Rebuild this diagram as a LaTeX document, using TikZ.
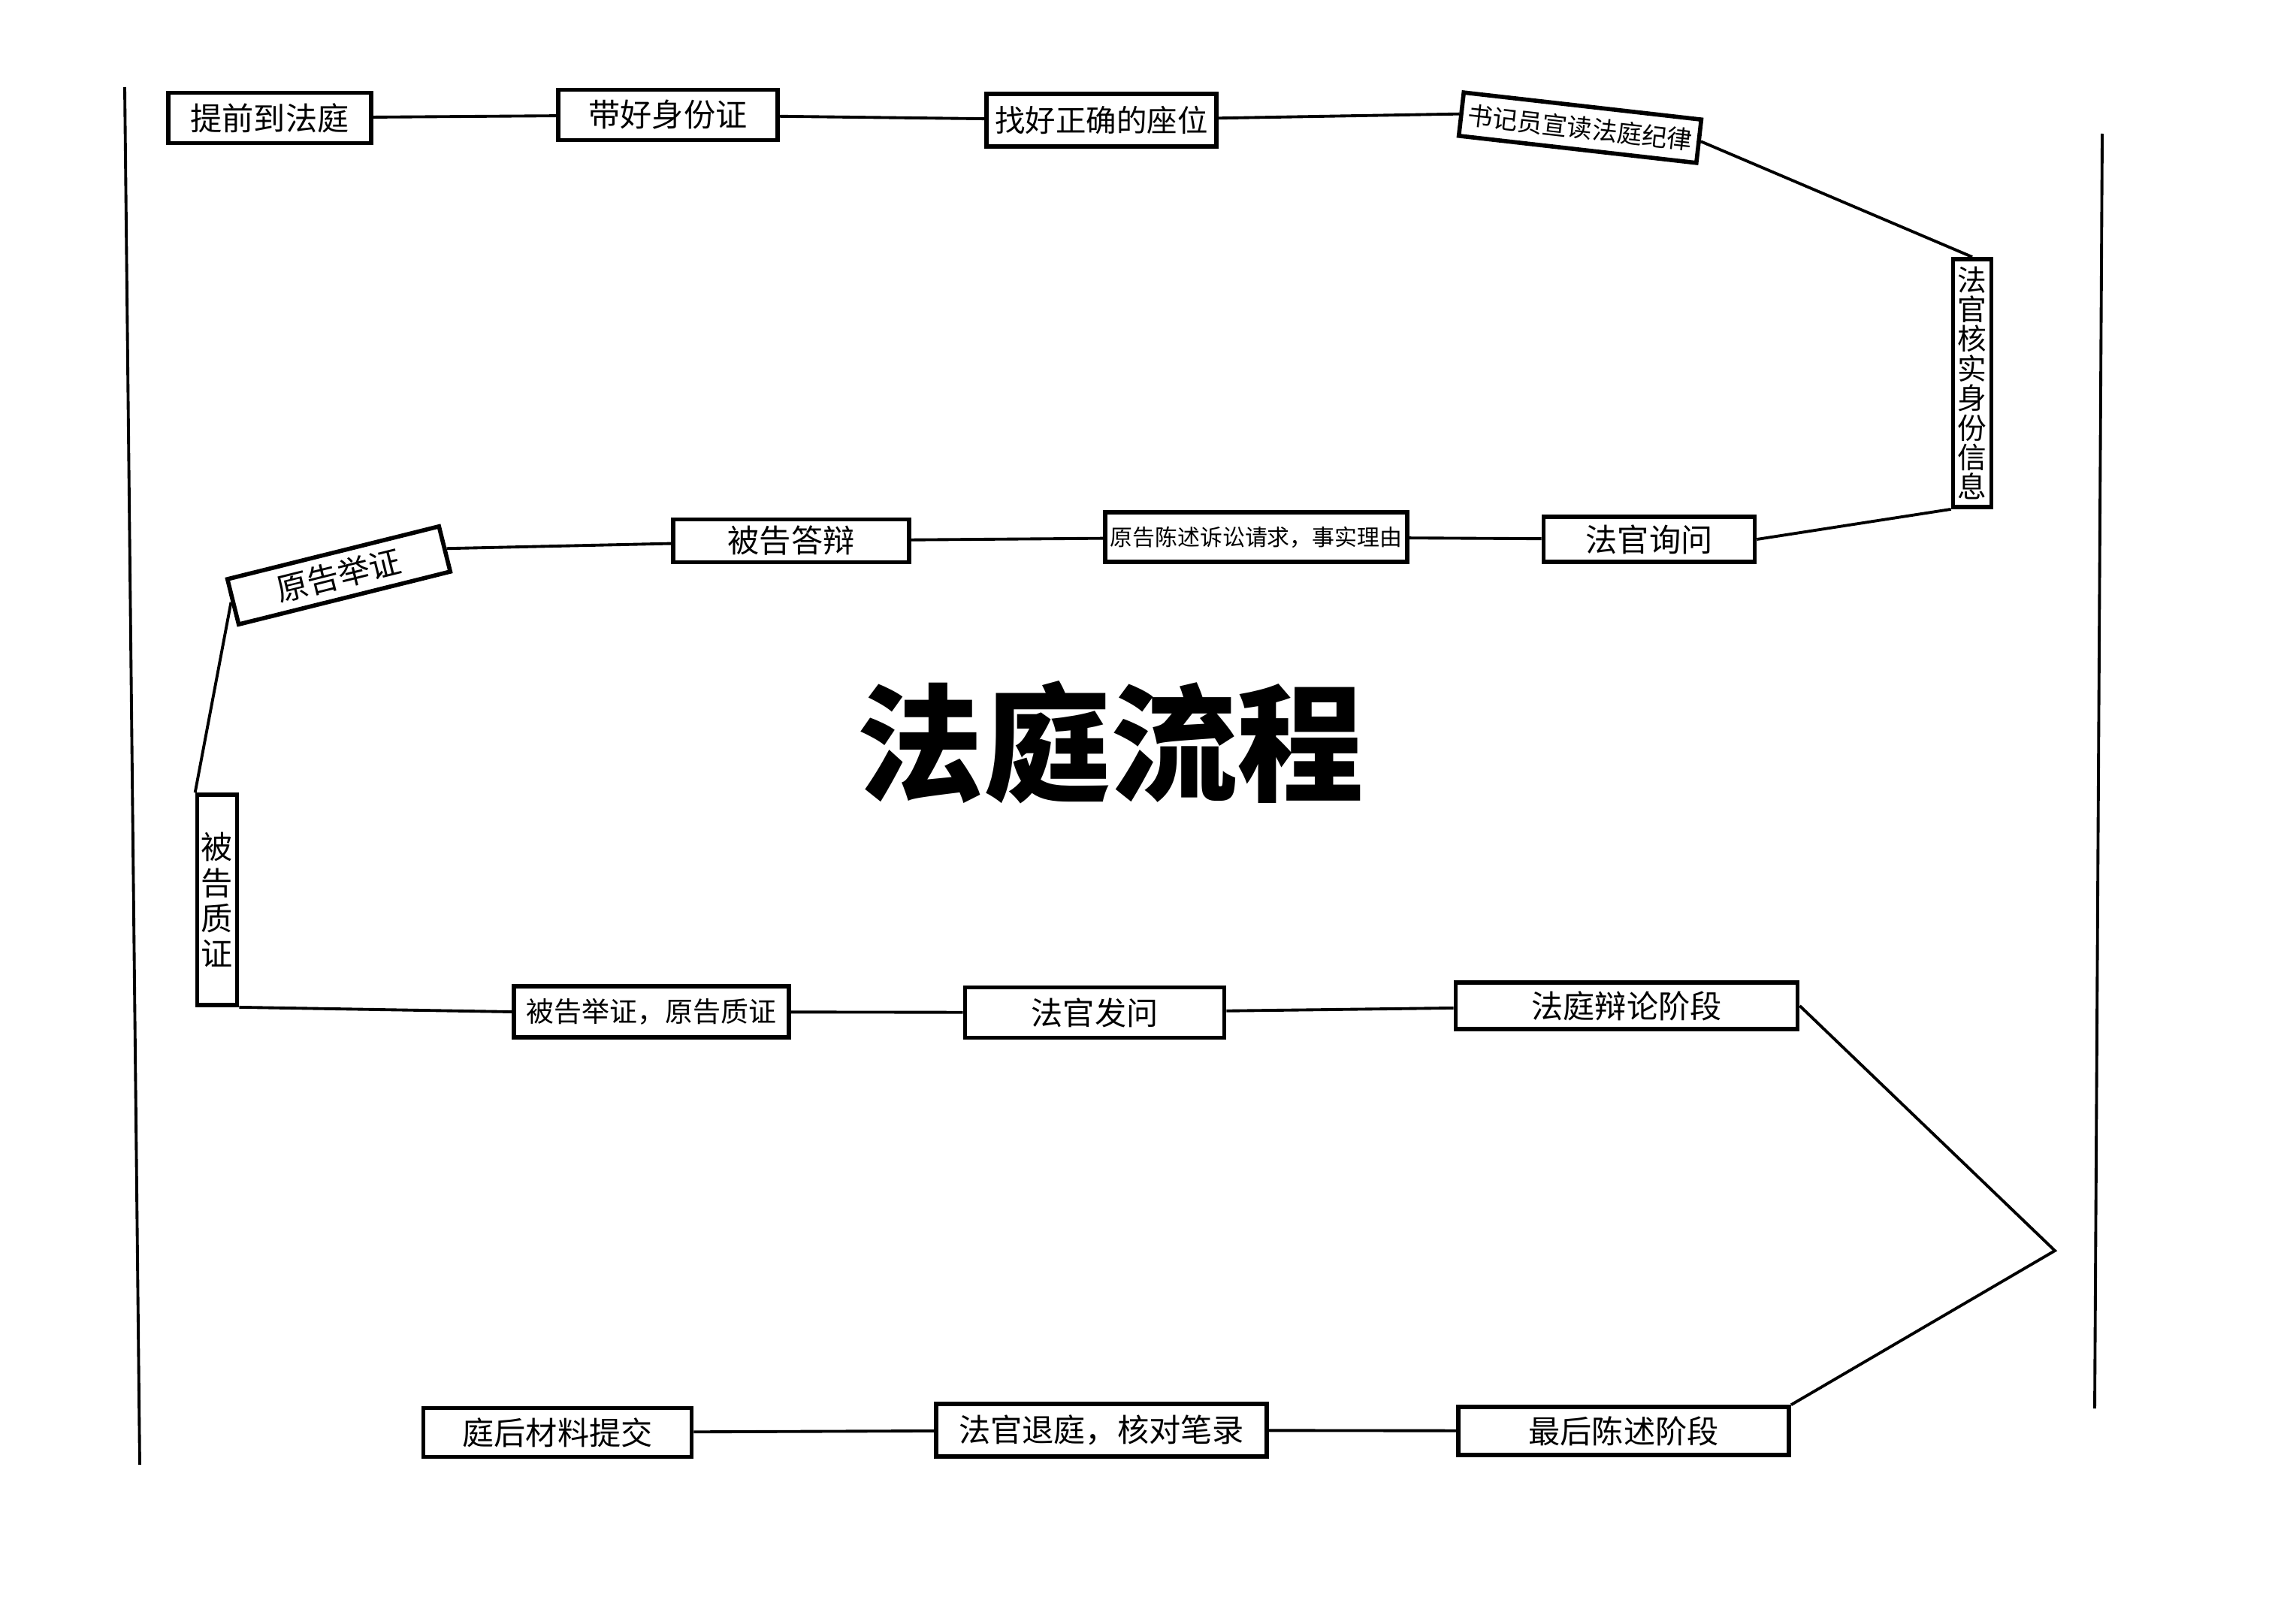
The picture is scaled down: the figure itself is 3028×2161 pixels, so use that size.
\documentclass[tikz,border=0pt]{standalone}
\usepackage{fontspec}
\usepackage{tikz}
\newfontfamily\cjk{Noto Sans CJK SC}
\begin{document}
\begin{tikzpicture}[x=0.01cm, y=-0.01cm,
		stepbox/.style={draw, line width=1.6pt, fill=white, inner sep=0pt, font=\cjk\fontsize{12}{13}\selectfont},
		vbox/.style={stepbox, align=center},
		link/.style={line width=1.1pt}]
		\useasboundingbox[fill=white] (0,0) rectangle (3028,2161);
		
		% side lines
		\draw[link] (166,116) -- (186,1950);
		\draw[link] (2798,178) -- (2788,1875);
		
		\node[font=\cjk\bfseries\fontsize{48}{50}\selectfont] (0) at (1478,988) {法庭流程};
		
		% top row
		\node[stepbox, minimum width=2.70cm, minimum height=0.67cm] (1) at (359,157) {提前到法庭};
		\node[stepbox, minimum width=2.92cm, minimum height=0.67cm] (2) at (889,153) {带好身份证};
		\node[stepbox, minimum width=3.06cm, minimum height=0.70cm, font=\cjk\fontsize{11.5}{13}\selectfont] (3) at (1466,160) {找好正确的座位};
		\node[stepbox, minimum width=3.18cm, minimum height=0.58cm, rotate=-6.5, font=\cjk\fontsize{9.5}{11}\selectfont] (4) at (2103,170) {书记员宣读法庭纪律};
		\node[vbox, minimum width=0.51cm, minimum height=3.30cm, font=\cjk\fontsize{11}{11.2}\selectfont] (5) at (2625,510) {法\\官\\核\\实\\身\\份\\信\\息};
		
		% second row
		\node[stepbox, minimum width=2.81cm, minimum height=0.60cm] (6) at (2195,718) {法官询问};
		\node[stepbox, minimum width=4.02cm, minimum height=0.66cm, font=\cjk\fontsize{8.5}{10}\selectfont] (7) at (1672,715) {原告陈述诉讼请求，事实理由};
		\node[stepbox, minimum width=3.14cm, minimum height=0.57cm] (8) at (1053,720) {被告答辩};
		\node[stepbox, minimum width=2.90cm, minimum height=0.62cm, rotate=14] (9) at (451,766) {原告举证};
		\node[vbox, minimum width=0.53cm, minimum height=2.80cm, font=\cjk\fontsize{12}{13.4}\selectfont] (10) at (289,1198) {被\\告\\质\\证};
		
		% third row
		\node[stepbox, minimum width=3.66cm, minimum height=0.68cm, font=\cjk\fontsize{10.5}{12}\selectfont] (11) at (867,1347) {被告举证，原告质证};
		\node[stepbox, minimum width=3.45cm, minimum height=0.67cm] (12) at (1457,1348) {法官发问};
		\node[stepbox, minimum width=4.55cm, minimum height=0.62cm] (13) at (2165,1339) {法庭辩论阶段};
		\coordinate (17) at (2735,1665);
		
		% bottom row
		\node[stepbox, minimum width=4.40cm, minimum height=0.64cm] (14) at (2161,1905) {最后陈述阶段};
		\node[stepbox, minimum width=4.40cm, minimum height=0.70cm] (15) at (1466,1904) {法官退庭，核对笔录};
		\node[stepbox, minimum width=3.57cm, minimum height=0.65cm] (16) at (742,1907) {庭后材料提交};
		
		\draw[link] (1) -- (2);
		\draw[link] (2) -- (3);
		\draw[link] (3) -- (4.west);
		\draw[link] (4.east) -- (5.north);
		\draw[link] (5.south west) -- (6.east);
		\draw[link] (6) -- (7);
		\draw[link] (7) -- (8);
		\draw[link] (8) -- (9.east);
		\draw[link] (9.west) -- (10.north west);
		\draw[link] (10.south east) -- (11.west);
		\draw[link] (11) -- (12);
		\draw[link] (12) -- (13);
		\draw[link] (13.east) -- (17) -- (14.north east);
		\draw[link] (14) -- (15);
		\draw[link] (15) -- (16);
\end{tikzpicture}
\end{document}
